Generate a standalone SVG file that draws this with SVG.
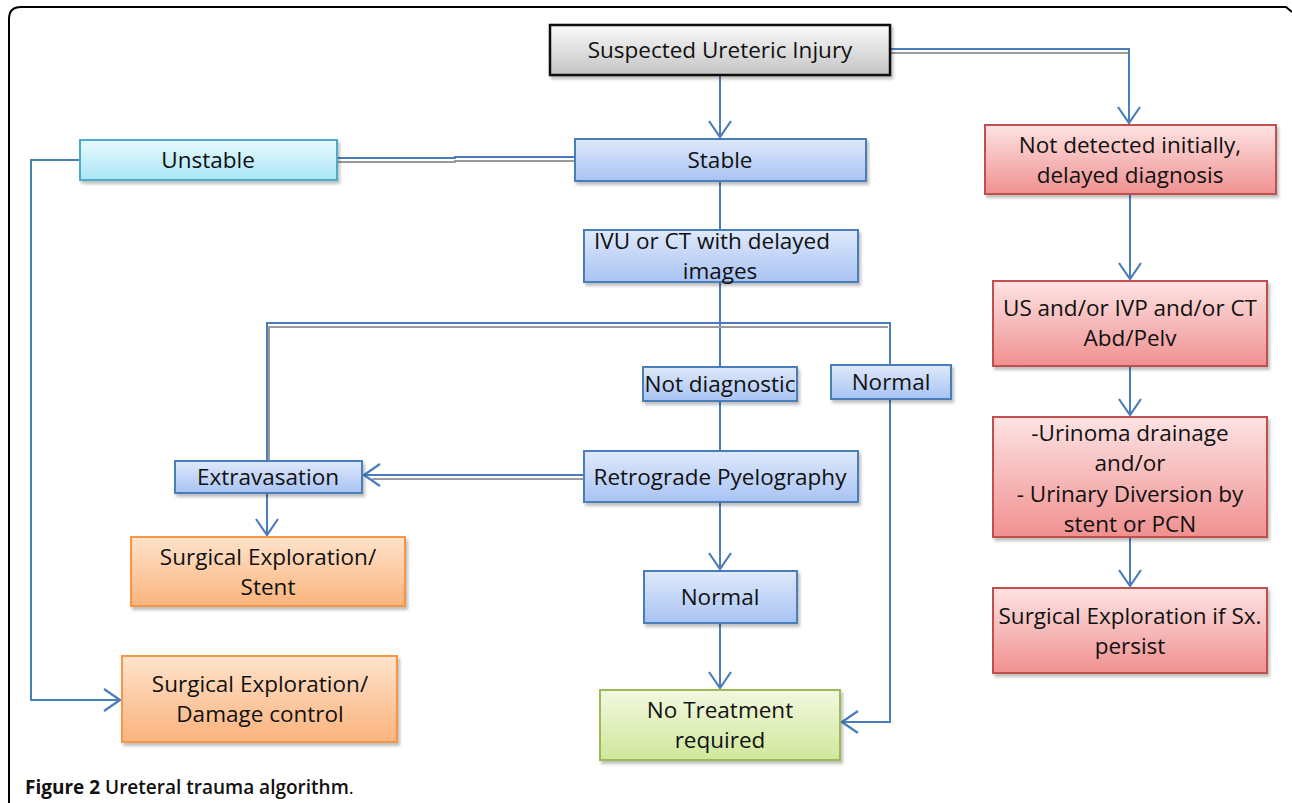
<svg xmlns="http://www.w3.org/2000/svg" width="1292" height="803" viewBox="0 0 1292 803">
<defs>
<linearGradient id="gTop" x1="0" y1="0" x2="0" y2="1"><stop offset="0" stop-color="#fafafa"/><stop offset="1" stop-color="#c4c4c4"/></linearGradient>
<linearGradient id="gBlue" x1="0" y1="0" x2="0" y2="1"><stop offset="0" stop-color="#dfe9fb"/><stop offset="1" stop-color="#a8c3f3"/></linearGradient>
<linearGradient id="gCyan" x1="0" y1="0" x2="0" y2="1"><stop offset="0" stop-color="#e8f9fd"/><stop offset="1" stop-color="#a9e6f6"/></linearGradient>
<linearGradient id="gRed" x1="0" y1="0" x2="0" y2="1"><stop offset="0" stop-color="#fde3e3"/><stop offset="1" stop-color="#f09090"/></linearGradient>
<linearGradient id="gOrange" x1="0" y1="0" x2="0" y2="1"><stop offset="0" stop-color="#fee3cc"/><stop offset="1" stop-color="#fbb37c"/></linearGradient>
<linearGradient id="gGreen" x1="0" y1="0" x2="0" y2="1"><stop offset="0" stop-color="#f2f8e0"/><stop offset="1" stop-color="#d0e79a"/></linearGradient>
<filter id="sh" x="-5%" y="-10%" width="110%" height="130%"><feDropShadow dx="2" dy="3" stdDeviation="1.5" flood-color="#000" flood-opacity="0.25"/></filter>
<marker id="arr" viewBox="0 0 18 24" refX="17" refY="12" markerWidth="18" markerHeight="24" markerUnits="userSpaceOnUse" orient="auto">
<path d="M1,1 L17,12 L1,23" fill="none" stroke="#4a7ebb" stroke-width="2.2"/>
</marker>
</defs>
<style>
.t{font-family:"Open Sans","Liberation Sans",sans-serif;font-size:22.5px;fill:#111;text-anchor:middle}
.bl{stroke:#4a7ebb;stroke-width:2;fill:url(#gBlue)}
.cy{stroke:#4bacc6;stroke-width:2;fill:url(#gCyan)}
.rd{stroke:#c0504d;stroke-width:2;fill:url(#gRed)}
.or{stroke:#f79646;stroke-width:2;fill:url(#gOrange)}
.gr{stroke:#9bbb59;stroke-width:2;fill:url(#gGreen)}
.c{fill:none;stroke:#4a7ebb;stroke-width:2}
.g{fill:none;stroke:#9a9a9a;stroke-width:2}
</style>
<rect x="0" y="0" width="1292" height="803" fill="#fff"/>
<path d="M9,803 V19 Q9,7 21,7 H1286 L1292,12" fill="none" stroke="#000" stroke-width="2"/>

<g id="connectors">
<path class="c" d="M720,75 V137" marker-end="url(#arr)"/>
<path class="c" d="M890,49 H1129 V123" marker-end="url(#arr)"/>
<path class="g" d="M890,53 H1128"/>
<path class="c" d="M575,157 H455 V158 H337"/>
<path class="g" d="M575,161 H455 V162 H337"/>
<path class="c" d="M80,160 H31 V700 H120" marker-end="url(#arr)"/>
<path class="c" d="M720,181 V230"/>
<path class="c" d="M720,282 V367"/>
<path class="c" d="M267,461 V323 H890 V365"/>
<path class="g" d="M269,461 V327 H888"/>
<path class="c" d="M584,475 H364" marker-end="url(#arr)"/>
<path class="g" d="M584,479 H372"/>
<path class="c" d="M720,401 V451"/>
<path class="c" d="M267,493 V535" marker-end="url(#arr)"/>
<path class="c" d="M720,502 V569" marker-end="url(#arr)"/>
<path class="c" d="M720,623 V688" marker-end="url(#arr)"/>
<path class="c" d="M890,399 V722 H842" marker-end="url(#arr)"/>
<path class="c" d="M1130,194 V279" marker-end="url(#arr)"/>
<path class="c" d="M1130,366 V415" marker-end="url(#arr)"/>
<path class="c" d="M1130,537 V586" marker-end="url(#arr)"/>
</g>

<g id="suspected"><rect x="550" y="25" width="340" height="50" fill="url(#gTop)" stroke="#111" stroke-width="2.5" filter="url(#sh)"/><text class="t" x="720" y="58">Suspected Ureteric Injury</text></g>
<g id="unstable"><rect class="cy" x="80" y="140" width="257" height="40" filter="url(#sh)"/><text class="t" x="208" y="168">Unstable</text></g>
<g id="stable"><rect class="bl" x="575" y="139" width="291" height="42" filter="url(#sh)"/><text class="t" x="720" y="168">Stable</text></g>
<g id="ivu"><rect class="bl" x="584" y="230" width="274" height="52" filter="url(#sh)"/><text class="t" x="712" y="249">IVU or CT with delayed</text><text class="t" x="720" y="279">images</text></g>
<g id="notdiag"><rect class="bl" x="643" y="367" width="154" height="34" filter="url(#sh)"/><text class="t" x="720" y="392">Not diagnostic</text></g>
<g id="normal1"><rect class="bl" x="831" y="365" width="120" height="34" filter="url(#sh)"/><text class="t" x="891" y="390">Normal</text></g>
<g id="retro"><rect class="bl" x="584" y="451" width="274" height="51" filter="url(#sh)"/><text class="t" x="720" y="485">Retrograde Pyelography</text></g>
<g id="extrav"><rect class="bl" x="175" y="461" width="187" height="32" filter="url(#sh)"/><text class="t" x="268" y="485">Extravasation</text></g>
<g id="stent"><rect class="or" x="131" y="537" width="274" height="69" filter="url(#sh)"/><text class="t" x="268" y="565">Surgical Exploration/</text><text class="t" x="268" y="595">Stent</text></g>
<g id="normal2"><rect class="bl" x="644" y="571" width="153" height="52" filter="url(#sh)"/><text class="t" x="720" y="605">Normal</text></g>
<g id="notreat"><rect class="gr" x="600" y="690" width="240" height="70" filter="url(#sh)"/><text class="t" x="720" y="718">No Treatment</text><text class="t" x="720" y="748">required</text></g>
<g id="damage"><rect class="or" x="122" y="656" width="275" height="86" filter="url(#sh)"/><text class="t" x="260" y="692">Surgical Exploration/</text><text class="t" x="260" y="722">Damage control</text></g>
<g id="delayed"><rect class="rd" x="985" y="125" width="291" height="69" filter="url(#sh)"/><text class="t" x="1130" y="153">Not detected initially,</text><text class="t" x="1130" y="183">delayed diagnosis</text></g>
<g id="us"><rect class="rd" x="993" y="281" width="274" height="85" filter="url(#sh)"/><text class="t" x="1130" y="316">US and/or IVP and/or CT</text><text class="t" x="1130" y="346">Abd/Pelv</text></g>
<g id="urinoma"><rect class="rd" x="993" y="417" width="274" height="120" filter="url(#sh)"/><text class="t" x="1130" y="441">-Urinoma drainage</text><text class="t" x="1130" y="471">and/or</text><text class="t" x="1130" y="502">- Urinary Diversion by</text><text class="t" x="1130" y="532">stent or PCN</text></g>
<g id="sx"><rect class="rd" x="993" y="588" width="274" height="85" filter="url(#sh)"/><text class="t" x="1130" y="624">Surgical Exploration if Sx.</text><text class="t" x="1130" y="654">persist</text></g>

<text x="25" y="794" font-family="'Open Sans','Liberation Sans',sans-serif" font-size="19" fill="#111"><tspan font-weight="700">Figure 2</tspan><tspan font-weight="600"> Ureteral trauma algorithm</tspan><tspan font-weight="400">.</tspan></text>
</svg>
